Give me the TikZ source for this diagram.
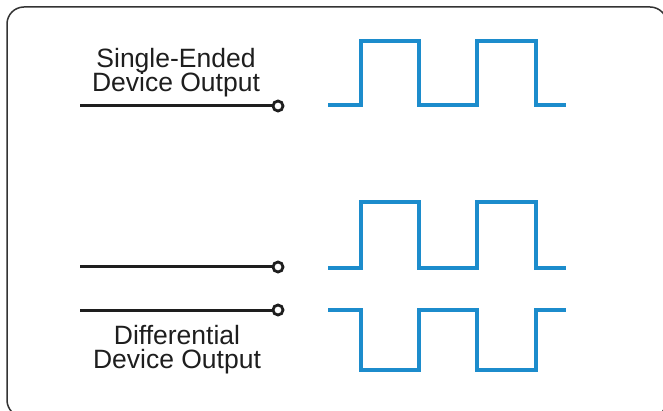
\documentclass[tikz,border=0pt]{standalone}
\usepackage{fontspec}
\setmainfont{Liberation Sans}
\definecolor{wave}{RGB}{28,140,204}
\definecolor{ink}{RGB}{30,30,30}
\begin{document}
\begin{tikzpicture}[x=1pt,y=-1pt,
  wavestyle/.style={draw=wave,line width=3.3pt,line join=miter},
  wire/.style={draw=ink,line width=3pt},
  term/.style={circle,draw=ink,line width=2.8pt,fill=white,minimum size=10pt,inner sep=0pt},
  lbl/.style={text=ink,font=\fontsize{26.5}{24}\selectfont,inner sep=0pt,anchor=base}]
\useasboundingbox (0,0) rectangle (663,411);
\begin{scope}
\clip (0,0) rectangle (663,411);
\draw[line width=1.5pt,draw=black!80,rounded corners=17pt] (7,7) rectangle (667,417);
\end{scope}
% labels
\node[lbl] (se1) at (176,68) {Single-Ended};
\node[lbl] (se2) at (176,92) {Device Output};
\node[lbl] (df1) at (177,344) {Differential};
\node[lbl] (df2) at (177,368) {Device Output};
% wires and terminals
\coordinate (w1) at (80,106);
\coordinate (w2) at (80,267);
\coordinate (w3) at (80,310);
\node[term] (t1) at (278,106) {};
\node[term] (t2) at (278,267) {};
\node[term] (t3) at (278,310) {};
\draw[wire] (w1) -- (t1);
\draw[wire] (w2) -- (t2);
\draw[wire] (w3) -- (t3);
% waveforms
\draw[wavestyle] (328,105) -- (361,105) -- (361,41) -- (419,41) -- (419,105) -- (477,105) -- (477,41) -- (536,41) -- (536,105) -- (566,105);
\draw[wavestyle] (328,268) -- (361,268) -- (361,202) -- (419,202) -- (419,268) -- (477,268) -- (477,202) -- (536,202) -- (536,268) -- (566,268);
\draw[wavestyle] (328,310) -- (361,310) -- (361,370) -- (419,370) -- (419,310) -- (477,310) -- (477,370) -- (536,370) -- (536,310) -- (566,310);
\end{tikzpicture}
\end{document}
